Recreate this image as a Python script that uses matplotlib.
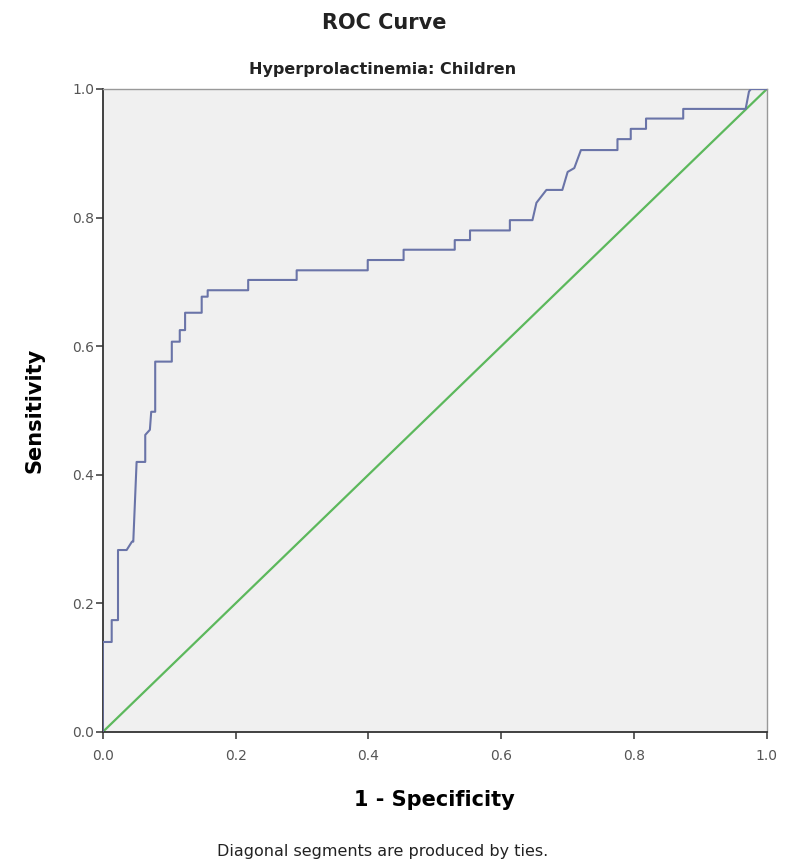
import matplotlib
matplotlib.use("Agg")
import matplotlib.pyplot as plt

# ROC curve vertices (1 - specificity, sensitivity)
fpr = [0.0, 0.0, 0.0135, 0.0135, 0.023, 0.023, 0.036, 0.044, 0.046, 0.051,
       0.064, 0.064, 0.071, 0.073, 0.079, 0.079, 0.104, 0.104, 0.116, 0.116,
       0.124, 0.124, 0.149, 0.149, 0.158, 0.158, 0.219, 0.219, 0.292, 0.292,
       0.399, 0.399, 0.453, 0.453, 0.530, 0.530, 0.553, 0.553, 0.613, 0.613,
       0.647, 0.653, 0.668, 0.692, 0.700, 0.710, 0.720, 0.775, 0.775, 0.795,
       0.795, 0.818, 0.818, 0.874, 0.874, 0.968, 0.973, 0.976, 1.0]
tpr = [0.0, 0.140, 0.140, 0.174, 0.174, 0.283, 0.283, 0.296, 0.296, 0.420,
       0.420, 0.462, 0.470, 0.498, 0.498, 0.576, 0.576, 0.607, 0.607, 0.625,
       0.625, 0.652, 0.652, 0.677, 0.677, 0.687, 0.687, 0.703, 0.703, 0.718,
       0.718, 0.734, 0.734, 0.750, 0.750, 0.765, 0.765, 0.780, 0.780, 0.796,
       0.796, 0.823, 0.843, 0.843, 0.871, 0.877, 0.905, 0.905, 0.922, 0.922,
       0.938, 0.938, 0.954, 0.954, 0.969, 0.969, 0.996, 1.0, 1.0]

# reference line
diag = [0.0, 1.0]

ticks = [0.0, 0.2, 0.4, 0.6, 0.8, 1.0]
tick_labels = ["0.0", "0.2", "0.4", "0.6", "0.8", "1.0"]

fig = plt.figure(figsize=(7.86, 8.63), dpi=100)
ax = fig.add_axes([0.1307, 0.1518, 0.845, 0.7451])
ax.set_facecolor("#f0f0f0")

ax.plot(diag, diag, color="#5cb85c", lw=1.6, zorder=2)
ax.plot(fpr, tpr, color="#6a74a8", lw=1.5, zorder=3)

ax.set_xlim(0, 1)
ax.set_ylim(0, 1)
ax.set_xticks(ticks)
ax.set_xticklabels(tick_labels)
ax.set_yticks(ticks)
ax.set_yticklabels(tick_labels)
ax.tick_params(direction="out", length=5, width=1.2, color="#444444",
               labelsize=10, labelcolor="#555555")
ax.tick_params(axis="x", pad=7)
ax.tick_params(axis="y", pad=1)

for side in ["left", "bottom"]:
    ax.spines[side].set_color("#333333")
    ax.spines[side].set_linewidth(1.3)
for side in ["top", "right"]:
    ax.spines[side].set_color("#999999")
    ax.spines[side].set_linewidth(1.0)

ax.set_xlabel("1 - Specificity", fontsize=15, fontweight="bold", labelpad=20)
ax.set_ylabel("Sensitivity", fontsize=15, fontweight="bold", labelpad=20)

fig.text(0.489, 0.973, "ROC Curve", ha="center", va="center",
         fontsize=15, fontweight="bold", color="#222222")
fig.text(0.487, 0.919, "Hyperprolactinemia: Children", ha="center", va="center",
         fontsize=11.5, fontweight="bold", color="#222222")
fig.text(0.487, 0.013, "Diagonal segments are produced by ties.", ha="center",
         va="center", fontsize=11.5, color="#222222")

fig.savefig("out.png", dpi=100)
